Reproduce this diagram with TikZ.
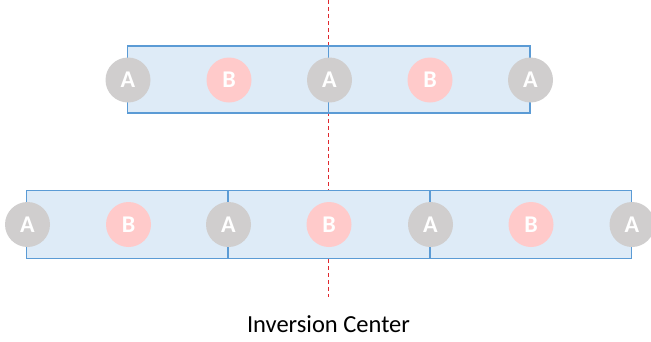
\documentclass[tikz,border=0pt]{standalone}
\usepackage{fontspec}
\setmainfont{Carlito}
\definecolor{cellfill}{HTML}{DEEBF7}
\definecolor{celledge}{HTML}{5B9BD5}
\definecolor{atomA}{HTML}{D0CECE}
\definecolor{atomB}{HTML}{FFCACA}
\definecolor{axisred}{HTML}{E0282E}
\begin{document}
\begin{tikzpicture}[x=1pt,y=-1pt,
  cell/.style={draw=celledge,fill=cellfill,line width=1.5pt},
  atom/.style={circle,minimum size=45pt,inner sep=0pt,text=white,font=\bfseries\fontsize{24}{24}\selectfont},
  atoma/.style={atom,fill=atomA},
  atomb/.style={atom,fill=atomB},
  axis/.style={draw=axisred,line width=1.6pt,dash pattern=on 4pt off 3pt}]
\useasboundingbox (0,0) rectangle (651,341);
% inversion axis
\coordinate (ctop) at (328.5,0);
\coordinate (cbot) at (328.5,297);
\draw[axis] (ctop) -- (cbot);
% upper chain: two unit cells
\draw[cell] (127.5,46) rectangle (328.5,113);
\draw[cell] (328.5,46) rectangle (530,113);
\node[atoma] (ua1) at (128,80) {A};
\node[atomb] (ub1) at (229,80) {B};
\node[atoma] (ua2) at (329.5,80) {A};
\node[atomb] (ub2) at (430,80) {B};
\node[atoma] (ua3) at (530.5,80) {A};
% lower chain: three unit cells
\draw[cell] (26.5,190.5) rectangle (228,258.5);
\draw[cell] (228,190.5) rectangle (430,258.5);
\draw[cell] (430,190.5) rectangle (631.5,258.5);
\node[atoma] (la1) at (27.5,224.5) {A};
\node[atomb] (lb1) at (128.5,224.5) {B};
\node[atoma] (la2) at (228.5,224.5) {A};
\node[atomb] (lb2) at (329,224.5) {B};
\node[atoma] (la3) at (430.5,224.5) {A};
\node[atomb] (lb3) at (531,224.5) {B};
\node[atoma] (la4) at (632,224.5) {A};
% caption
\node[font=\fontsize{24.5}{24.5}\selectfont] (cap) at (328.5,324) {Inversion Center};
\end{tikzpicture}
\end{document}
